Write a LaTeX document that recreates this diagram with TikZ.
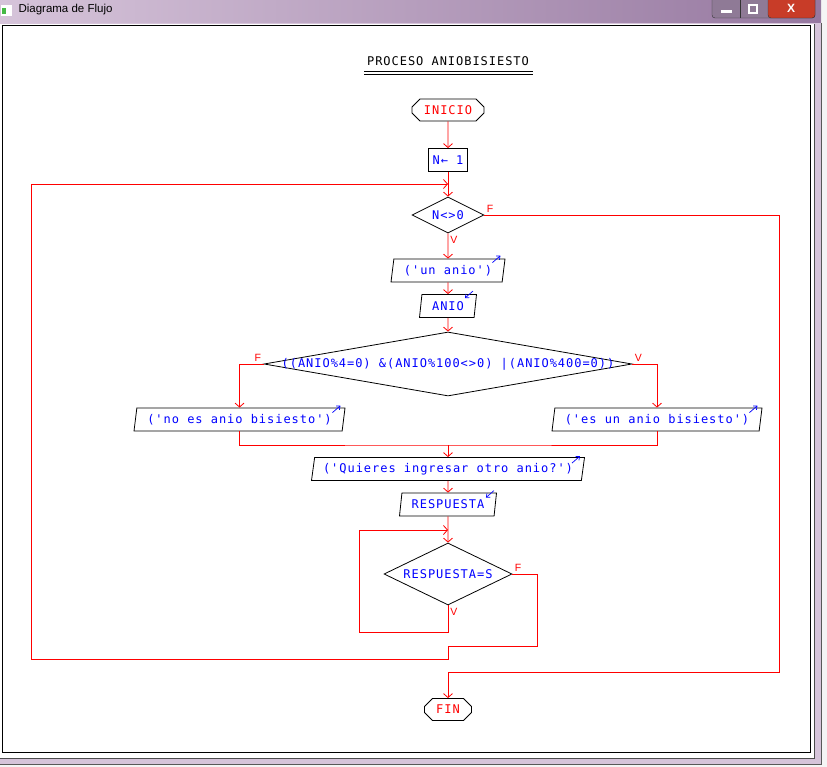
\documentclass[tikz,border=0pt]{standalone}
\usepackage{fontspec}
\setmainfont{Liberation Sans}
\newfontfamily\pixfont[LetterSpace=8, Ligatures=ResetAll]{DejaVu Sans Mono}
\usetikzlibrary{arrows.meta, positioning, shapes.geometric, shapes.misc}

\definecolor{lila}{RGB}{214,196,218}
\definecolor{lilaosc}{RGB}{150,120,160}
\definecolor{cierre}{RGB}{200,60,40}

\begin{document}
\begin{tikzpicture}[x=1pt, y=-1pt,
    texto/.style={font={\fontsize{12}{13}\pixfont}},
    terminal/.style={chamfered rectangle, chamfered rectangle xsep=4pt, chamfered rectangle ysep=4pt,
        draw, line width=0.8pt, texto, text=red, inner sep=0pt, minimum height=22pt},
    proceso/.style={rectangle, draw, line width=0.8pt, texto, text=blue, inner sep=0pt, minimum height=23pt},
    salida/.style={trapezium, trapezium left angle=75, trapezium right angle=105, trapezium stretches body,
        draw, line width=0.8pt, texto, text=blue, inner sep=0pt, minimum height=23pt},
    decision/.style={diamond, aspect=2, draw, line width=0.8pt, texto, text=blue, inner sep=0pt},
    flujo/.style={red, line width=0.9pt},
    flecha/.style={flujo, -{Straight Barb[length=4pt, width=9pt, line width=0.8pt]}},
    icono/.style={blue, line width=0.7pt, -{Straight Barb[length=3pt, width=5pt, line width=0.7pt]}},
    etiq/.style={red, font=\fontsize{10.5}{12}\selectfont, inner sep=2pt}
]
\useasboundingbox (0,0) rectangle (827,767);

% Ventana
\fill[gray!8] (0,0) rectangle (827,767);
\fill[lila] (0,0) rectangle (821,764);
\shade[left color=lila, right color=lilaosc] (0,0) rectangle (821,23);
\draw[gray!70!black, line width=0.8pt] (821,23) -- (821,764) -- (0,764);
\fill[white] (0,24) rectangle (814,758);
\draw[gray!60!black, line width=0.8pt] (814,24) -- (814,758) -- (0,758);
\draw[line width=1pt] (2,26) rectangle (810,752);

% Barra de titulo
\fill[white] (1,5) rectangle (12,16);
\fill[green!45!gray] (2,8) rectangle (6,14);
\node[anchor=west, font=\fontsize{11.5}{13}\selectfont] (titulo) at (15,10) {Diagrama de Flujo};
\draw[rounded corners=3pt, fill=lilaosc!70!gray, draw=gray!40!black] (712,-4) rectangle (815,18);
\draw[rounded corners=3pt, fill=cierre, draw=gray!40!black] (768,-4) rectangle (815,18);
\draw[gray!40!black] (740,-4) -- (740,18);
\fill[white] (721,10) rectangle (732,13);
\draw[white, line width=1.5pt] (749,5) rectangle (757,13);
\node[white, font=\bfseries\fontsize{12}{13}\selectfont] (cerrar) at (791,8) {X};

% Titulo del proceso
\node[texto] (proc) at (448,61) {PROCESO ANIOBISIESTO};
\draw[line width=0.8pt] (364,71) -- (533,71) (364,74) -- (533,74);

% Nodos
\node[terminal, minimum width=72pt] (inicio) at (448,110) {INICIO};
\node[proceso, minimum width=39pt] (asig) at (448,160) {N← 1};
\node[decision, minimum width=72pt, minimum height=36pt] (cond1) at (448,215) {N<>0};
\node[salida, minimum width=114pt] (esc1) at (448,270.5) {('un anio')};
\node[salida, minimum width=57pt] (leer1) at (448,306) {ANIO};
\node[decision, minimum width=368pt, minimum height=64pt,
    label={[texto, text=blue]center:{((ANIO\%4=0) \&(ANIO\%100<>0) |(ANIO\%400=0))}}] (cond2) at (448,364) {};
\node[salida, minimum width=211pt] (escno) at (239.5,419.5) {('no es anio bisiesto')};
\node[salida, minimum width=210pt] (escsi) at (657,419.5) {('es un anio bisiesto')};
\node[salida, minimum width=273pt] (esc2) at (448,469) {('Quieres ingresar otro anio?')};
\node[salida, minimum width=97pt] (leer2) at (448,504.5) {RESPUESTA};
\node[decision, minimum width=128pt, minimum height=62pt] (cond3) at (448,574) {RESPUESTA=S};
\node[terminal, minimum width=47pt] (fin) at (448,709.5) {FIN};

% Iconos de entrada / salida
\draw[icono] ([xshift=-13pt, yshift=-4pt]esc1.top right corner) -- ++(8pt,7pt);
\draw[icono] ([xshift=-4pt, yshift=3pt]leer1.top right corner) -- ++(-8pt,-7pt);
\draw[icono] ([xshift=-13pt, yshift=-5pt]escno.top right corner) -- ++(8pt,7pt);
\draw[icono] ([xshift=-13pt, yshift=-5pt]escsi.top right corner) -- ++(8pt,7pt);
\draw[icono] ([xshift=-13pt, yshift=-6pt]esc2.top right corner) -- ++(8pt,7pt);
\draw[icono] ([xshift=-3pt, yshift=2pt]leer2.top right corner) -- ++(-8pt,-7pt);

% Puntos de paso
\coordinate (lazo) at (448,184);
\coordinate (der) at (779,672);
\coordinate (union) at (448,445);
\coordinate (rep) at (448,530);
\coordinate (v3) at (359,632);
\coordinate (f3) at (537,646);
\coordinate (b3) at (448,659);
\coordinate (izq) at (31,659);

% Conectores
\draw[flecha] (inicio) -- (asig);
\draw[flecha] (asig) -- (cond1);
\draw[flecha] (cond1) -- node[etiq, pos=0, anchor=north west] (v1) {V} (esc1);
\draw[flecha] (cond1.east) -| node[etiq, pos=0, anchor=south west] (f1) {F} (der) -| (fin.north);
\draw[flecha] (esc1) -- (leer1);
\draw[flecha] (leer1) -- (cond2);
\draw[flecha] (cond2.west) -| node[etiq, pos=0, anchor=south east] (f2) {F} (escno.north);
\draw[flecha] (cond2.east) -| node[etiq, pos=0, anchor=south west] (v2) {V} (escsi.north);
\draw[flujo] (escno.south) |- (union) -| (escsi.south);
\draw[flecha] (union) -- (esc2);
\draw[flecha] (esc2) -- (leer2);
\draw[flecha] (leer2) -- (cond3);
\draw[flecha] (cond3.south) |- node[etiq, pos=0, anchor=north west] (v3l) {V} (v3) |- (rep);
\draw[flecha] (cond3.east) -| node[etiq, pos=0, anchor=south west] (f3l) {F} (f3) -| (b3) -- (izq) |- (lazo);
\end{tikzpicture}
\end{document}
